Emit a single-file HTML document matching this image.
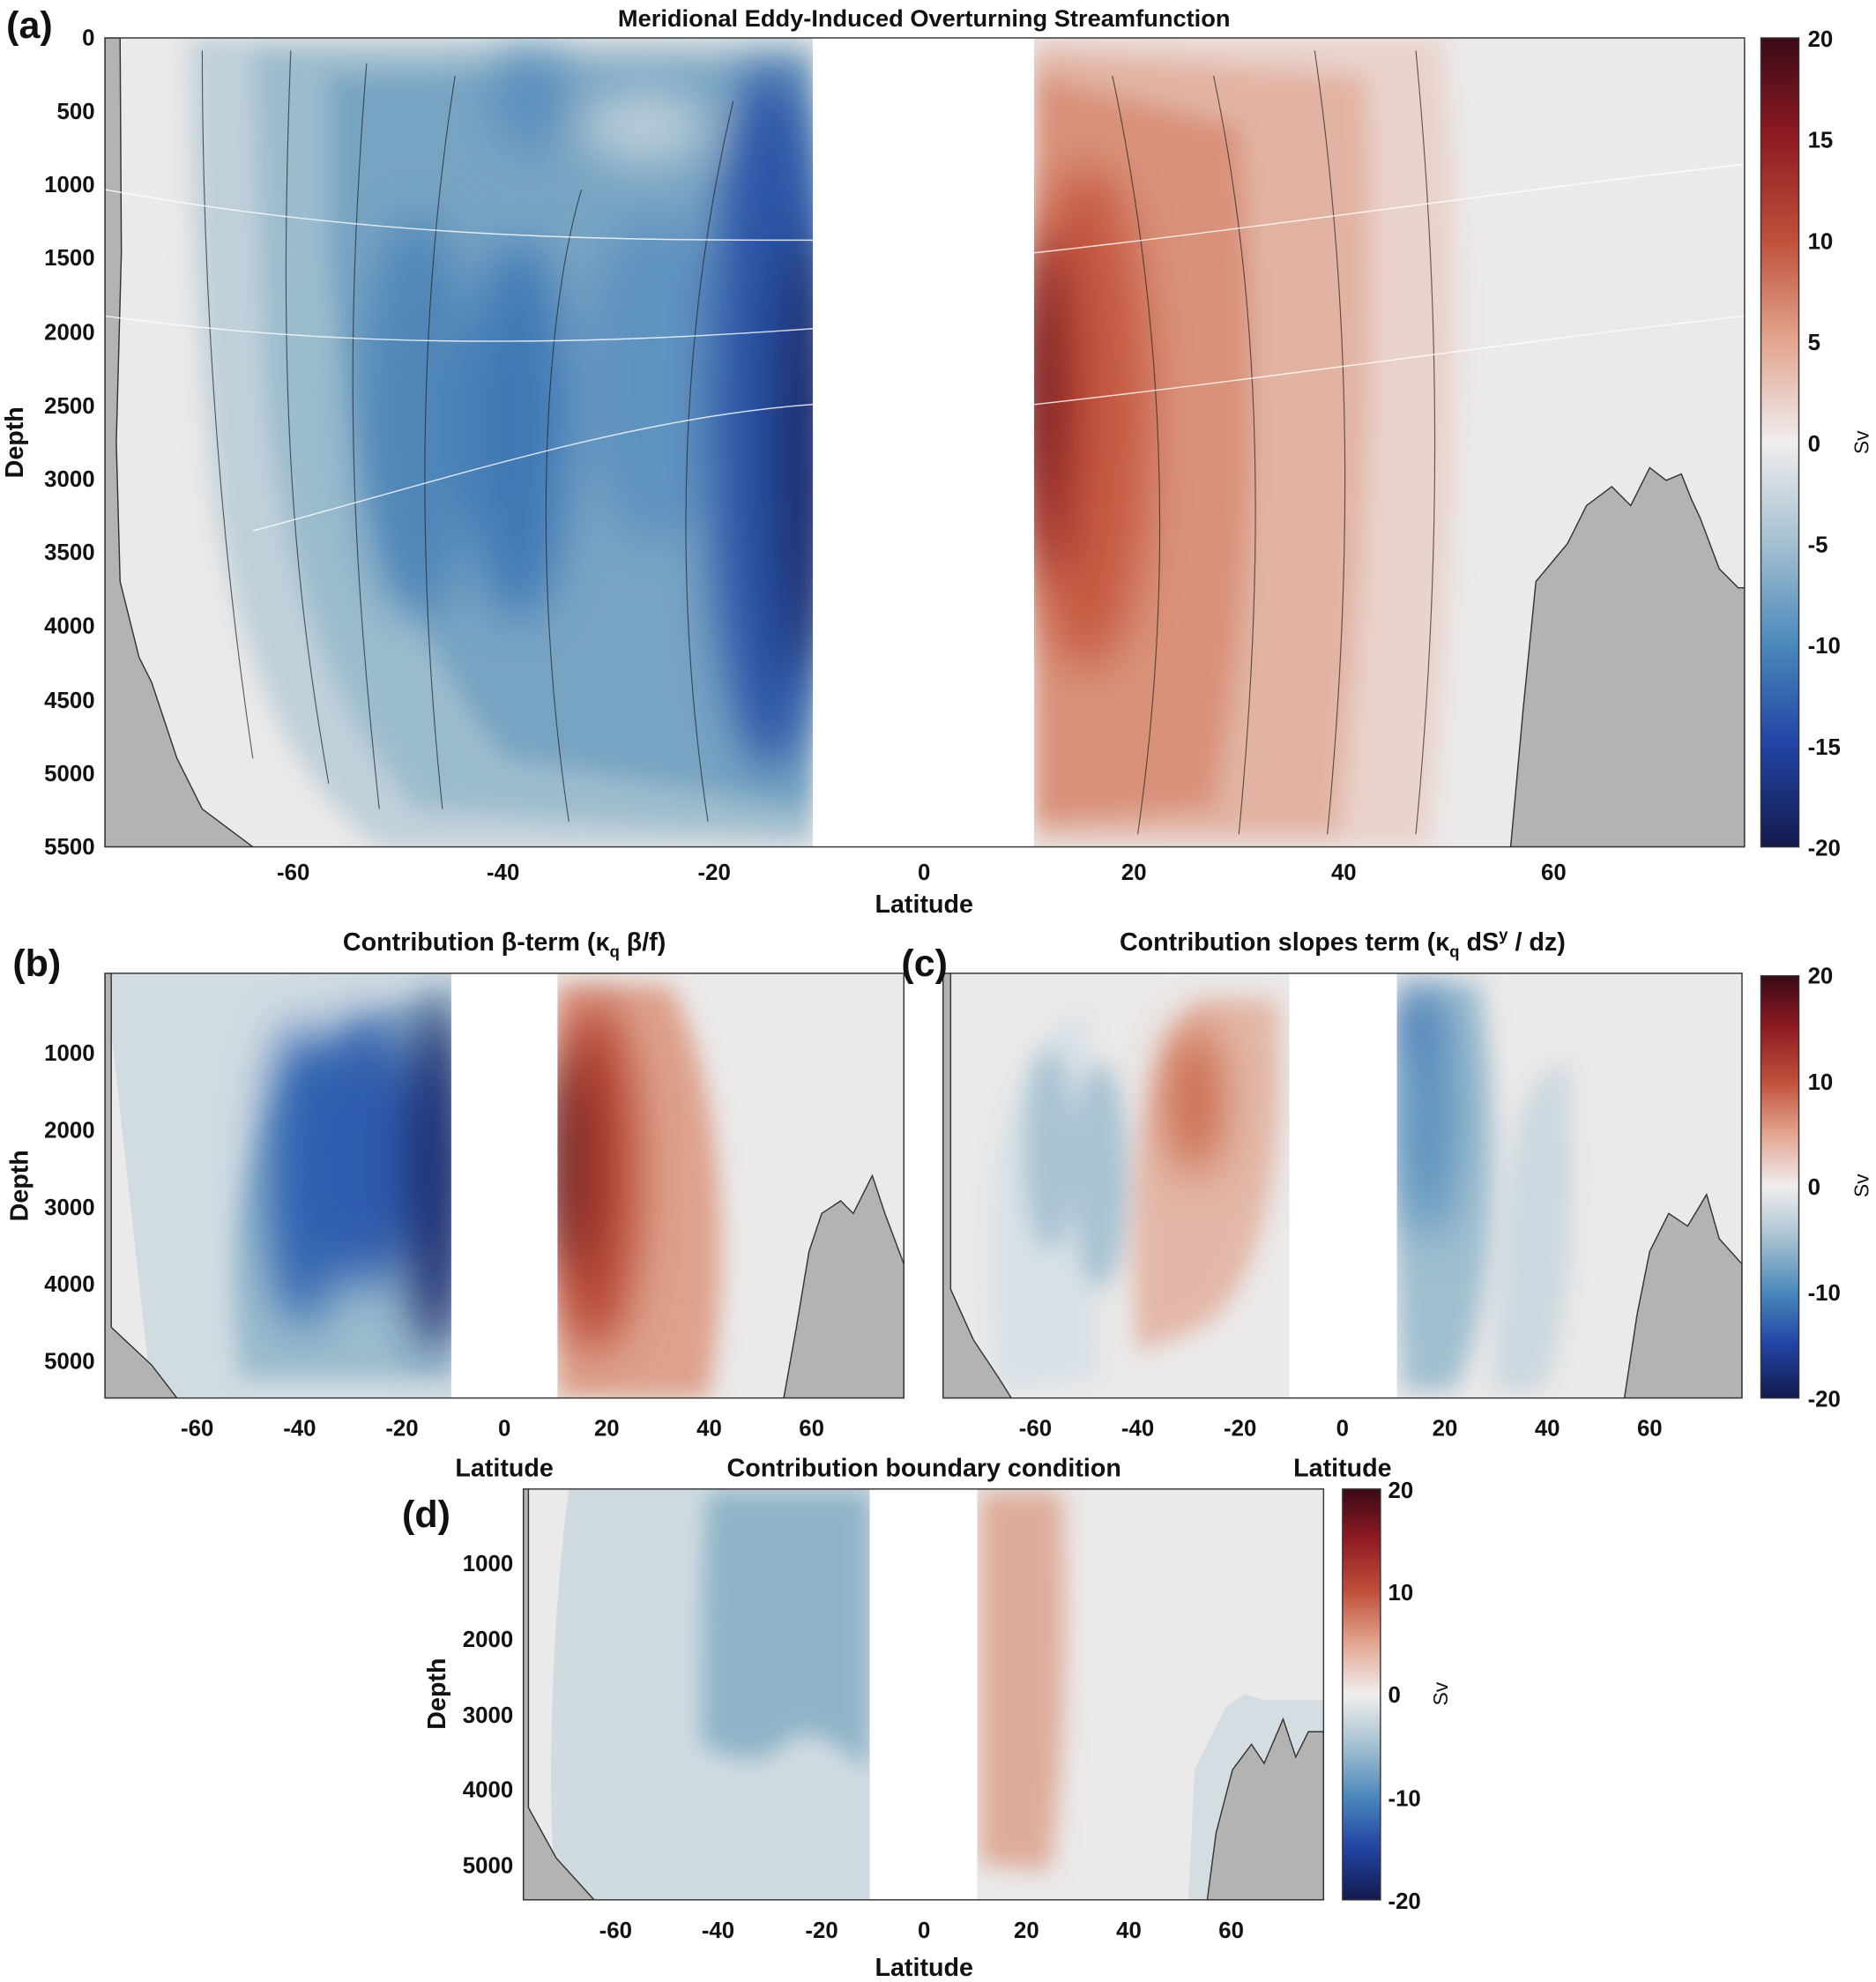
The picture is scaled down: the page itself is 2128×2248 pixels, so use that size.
<!DOCTYPE html>
<html><head><meta charset="utf-8"><style>
html,body{margin:0;padding:0;background:#fff}
svg{display:block}
text{font-family:"Liberation Sans",Arial,sans-serif;font-weight:bold;fill:#111}
</style></head><body>
<svg width="2128" height="2248" viewBox="0 0 1484 1568" preserveAspectRatio="none" xmlns="http://www.w3.org/2000/svg">
<defs>
<filter id="bl" x="-50%" y="-50%" width="200%" height="200%"><feGaussianBlur stdDeviation="18"/></filter>
<filter id="bs" x="-50%" y="-50%" width="200%" height="200%"><feGaussianBlur stdDeviation="9"/></filter>
<linearGradient id="cb" x1="0" y1="0" x2="0" y2="1">
<stop offset="0" stop-color="#3a0a16"/><stop offset="0.12" stop-color="#8e1a22"/>
<stop offset="0.25" stop-color="#c0503a"/><stop offset="0.37" stop-color="#e2a28c"/>
<stop offset="0.5" stop-color="#f0eeee"/><stop offset="0.62" stop-color="#a7c2d1"/>
<stop offset="0.75" stop-color="#4a88bb"/><stop offset="0.87" stop-color="#2245a5"/>
<stop offset="1" stop-color="#131a4d"/></linearGradient>
<clipPath id="ca"><rect x="83" y="30" width="1297" height="640"/></clipPath>
<clipPath id="cbp"><rect x="83" y="770" width="632" height="336"/></clipPath>
<clipPath id="ccp"><rect x="746" y="770" width="632" height="336"/></clipPath>
<clipPath id="cdp"><rect x="414" y="1178" width="633" height="325"/></clipPath>
</defs>

<!-- ========== PANEL A ========== -->
<g clip-path="url(#ca)">
<rect x="83" y="30" width="1297" height="640" fill="#ebe9e9"/>
<g filter="url(#bs)">
<path d="M150,30 L643,30 L643,670 L300,670 C230,620 190,520 170,400 C155,250 150,150 150,30Z" fill="#bfd0da"/>
<path d="M200,40 L643,40 L643,660 L330,640 C260,560 220,440 210,300 Z" fill="#9bbccd"/>
<path d="M260,60 L643,50 L643,640 L400,600 C320,500 280,380 260,200 Z" fill="#78a4c3"/>
</g>
<g filter="url(#bl)">
<ellipse cx="330" cy="330" rx="45" ry="160" fill="#4f86b8"/>
<ellipse cx="410" cy="340" rx="40" ry="150" fill="#3f79b6"/>
<ellipse cx="520" cy="300" rx="60" ry="130" fill="#5e93bf"/>
<ellipse cx="610" cy="330" rx="50" ry="280" fill="#2b55a7"/>
<ellipse cx="635" cy="360" rx="25" ry="180" fill="#1b2a70"/>
<ellipse cx="420" cy="80" rx="30" ry="40" fill="#5a8fbd"/>
<ellipse cx="510" cy="100" rx="50" ry="30" fill="#b8ccd7"/>
</g>
<g filter="url(#bs)">
<path d="M818,30 L1140,30 C1160,200 1150,450 1130,670 L818,670 Z" fill="#e9d2ca"/>
<path d="M818,40 L1080,60 C1090,250 1080,450 1060,660 L818,660 Z" fill="#e2b3a2"/>
<path d="M818,60 L980,100 C1000,300 990,480 960,640 L818,650 Z" fill="#d9927a"/>
</g>
<g filter="url(#bl)">
<ellipse cx="860" cy="330" rx="50" ry="200" fill="#c65a42"/>
<ellipse cx="830" cy="320" rx="22" ry="140" fill="#961d24"/>
<ellipse cx="822" cy="300" rx="10" ry="90" fill="#5a0f1a"/>
</g>
<rect x="643" y="30" width="175" height="640" fill="#fff"/>
<g fill="#b3b3b3" stroke="#333" stroke-width="1">
<path d="M83,30 L95,30 L96,200 L92,350 L95,460 L110,520 L120,540 L140,600 L160,640 L200,670 L83,670Z"/>
<path d="M1195,670 L1205,560 L1215,460 L1240,430 L1255,400 L1275,385 L1290,400 L1305,370 L1318,380 L1330,375 L1338,395 L1345,410 L1360,450 L1375,465 L1380,465 L1380,670Z"/>
</g>
<g fill="none" stroke="#222" stroke-width="0.8" opacity="0.7">
<path d="M200,600 C170,400 160,200 160,40"/><path d="M260,620 C230,450 220,300 230,40"/>
<path d="M300,640 C280,450 270,300 290,50"/><path d="M350,640 C330,450 330,250 360,60"/>
<path d="M450,650 C420,450 430,250 460,150"/><path d="M560,650 C530,450 540,250 580,80"/>
<path d="M1120,660 C1140,450 1140,250 1120,40"/><path d="M1050,660 C1070,450 1070,250 1040,40"/>
<path d="M980,660 C1000,450 1000,250 960,60"/><path d="M900,660 C930,450 920,250 880,60"/>
</g>
<g fill="none" stroke="#fff" stroke-width="1" opacity="0.8">
<path d="M83,150 C300,190 500,190 643,190"/><path d="M83,250 C300,280 500,270 643,260"/>
<path d="M200,420 C350,380 500,330 643,320"/><path d="M818,320 C1000,300 1200,270 1380,250"/>
<path d="M818,200 C1000,180 1200,150 1380,130"/>
</g>
</g>
<rect x="83" y="30" width="1297" height="640" fill="none" stroke="#333" stroke-width="1"/>
<text x="731" y="21" font-size="19" text-anchor="middle">Meridional Eddy-Induced Overturning Streamfunction</text>
<text x="5" y="30" font-size="30">(a)</text>
<g font-size="18" text-anchor="end">
<text x="75" y="36">0</text><text x="75" y="94">500</text><text x="75" y="152">1000</text><text x="75" y="210">1500</text><text x="75" y="269">2000</text><text x="75" y="327">2500</text><text x="75" y="385">3000</text><text x="75" y="443">3500</text><text x="75" y="501">4000</text><text x="75" y="560">4500</text><text x="75" y="618">5000</text><text x="75" y="676">5500</text>
</g>
<text transform="translate(18,350) rotate(-90)" font-size="20" text-anchor="middle">Depth</text>
<g font-size="18" text-anchor="middle">
<text x="232" y="696">-60</text><text x="398" y="696">-40</text><text x="565" y="696">-20</text><text x="731" y="696">0</text><text x="897" y="696">20</text><text x="1063" y="696">40</text><text x="1229" y="696">60</text>
</g>
<text x="731" y="722" font-size="20" text-anchor="middle">Latitude</text>
<rect x="1393" y="30" width="30" height="640" fill="url(#cb)" stroke="#333"/>
<g font-size="18"><text x="1430" y="37">20</text><text x="1430" y="117">15</text><text x="1430" y="197">10</text><text x="1430" y="277">5</text><text x="1430" y="357">0</text><text x="1430" y="437">-5</text><text x="1430" y="517">-10</text><text x="1430" y="597">-15</text><text x="1430" y="677">-20</text></g>
<text transform="translate(1478,350) rotate(-90)" font-size="16" text-anchor="middle" style="font-weight:normal">Sv</text>

<!-- ========== PANEL B ========== -->
<g clip-path="url(#cbp)">
<rect x="83" y="770" width="632" height="336" fill="#ebe9e9"/>
<path d="M83,770 L357,770 L357,1106 L120,1106 Z" fill="#d1dce2"/>
<g filter="url(#bs)"><path d="M190,1090 C170,950 200,820 357,780 L357,1090 Z" fill="#9bbccd"/></g>
<g filter="url(#bl)">
<ellipse cx="240" cy="930" rx="30" ry="120" fill="#2f62b0"/>
<ellipse cx="290" cy="910" rx="35" ry="110" fill="#2d5cae"/>
<ellipse cx="345" cy="930" rx="25" ry="140" fill="#1a2a70"/>
</g>
<g filter="url(#bs)"><path d="M441,780 L530,780 C570,850 580,1000 560,1106 L441,1106 Z" fill="#dea28c"/></g>
<g filter="url(#bl)"><ellipse cx="470" cy="930" rx="35" ry="140" fill="#b54233"/><ellipse cx="450" cy="920" rx="15" ry="90" fill="#5a0f1a"/></g>
<rect x="357" y="770" width="84" height="336" fill="#fff"/>
<g fill="#b3b3b3" stroke="#333" stroke-width="1">
<path d="M83,770 L88,770 L88,1050 L120,1080 L140,1106 L83,1106Z"/>
<path d="M620,1106 L630,1050 L640,990 L650,960 L665,950 L675,960 L690,930 L700,960 L715,1000 L715,1106Z"/>
</g>
</g>
<rect x="83" y="770" width="632" height="336" fill="none" stroke="#333"/>
<text x="399" y="752" font-size="20" text-anchor="middle">Contribution β-term (κ<tspan font-size="13" dy="5">q</tspan><tspan dy="-5"> β/f)</tspan></text>
<text x="10" y="772" font-size="30">(b)</text>
<g font-size="18" text-anchor="end"><text x="75" y="839">1000</text><text x="75" y="900">2000</text><text x="75" y="961">3000</text><text x="75" y="1022">4000</text><text x="75" y="1083">5000</text></g>
<text transform="translate(22,938) rotate(-90)" font-size="20" text-anchor="middle">Depth</text>
<g font-size="18" text-anchor="middle"><text x="156" y="1136">-60</text><text x="237" y="1136">-40</text><text x="318" y="1136">-20</text><text x="399" y="1136">0</text><text x="480" y="1136">20</text><text x="561" y="1136">40</text><text x="642" y="1136">60</text></g>
<text x="399" y="1168" font-size="20" text-anchor="middle">Latitude</text>

<!-- ========== PANEL C ========== -->
<g clip-path="url(#ccp)">
<rect x="746" y="770" width="632" height="336" fill="#ebe9e9"/>
<g filter="url(#bs)">
<path d="M790,1100 C770,950 790,820 860,800 L870,1090Z" fill="#d7e1e6"/>
<ellipse cx="830" cy="910" rx="20" ry="80" fill="#a9c3d2"/>
<ellipse cx="870" cy="930" rx="22" ry="90" fill="#a9c3d2"/>
<path d="M900,1070 C890,950 900,830 950,790 L1010,790 C1020,900 1000,1020 950,1050 Z" fill="#e3b7a7"/>
<path d="M1110,1100 C1100,950 1100,820 1110,778 L1170,778 C1190,900 1180,1050 1150,1100 Z" fill="#a0bfd0"/>
<path d="M1180,1100 C1190,950 1190,850 1240,840 C1250,950 1240,1060 1220,1100Z" fill="#cbd8df"/>
</g>
<g filter="url(#bl)"><ellipse cx="945" cy="870" rx="20" ry="60" fill="#c8623f"/><ellipse cx="1130" cy="880" rx="20" ry="100" fill="#4f89bb"/><ellipse cx="1120" cy="810" rx="12" ry="25" fill="#2a62ad"/></g>
<rect x="1020" y="770" width="85" height="336" fill="#fff"/>
<g fill="#b3b3b3" stroke="#333" stroke-width="1">
<path d="M746,770 L752,770 L752,1020 L770,1060 L790,1090 L800,1106 L746,1106Z"/>
<path d="M1285,1106 L1295,1040 L1305,990 L1320,960 L1335,970 L1350,945 L1360,980 L1378,1000 L1378,1106Z"/>
</g>
</g>
<rect x="746" y="770" width="632" height="336" fill="none" stroke="#333"/>
<text x="1062" y="752" font-size="20" text-anchor="middle">Contribution slopes term (κ<tspan font-size="13" dy="5">q</tspan><tspan dy="-5"> dS</tspan><tspan font-size="13" dy="-8">y</tspan><tspan dy="8"> / dz)</tspan></text>
<text x="713" y="772" font-size="30">(c)</text>
<g font-size="18" text-anchor="middle"><text x="819" y="1136">-60</text><text x="900" y="1136">-40</text><text x="981" y="1136">-20</text><text x="1062" y="1136">0</text><text x="1143" y="1136">20</text><text x="1224" y="1136">40</text><text x="1305" y="1136">60</text></g>
<text x="1062" y="1168" font-size="20" text-anchor="middle">Latitude</text>
<rect x="1393" y="772" width="30" height="334" fill="url(#cb)" stroke="#333"/>
<g font-size="18"><text x="1430" y="778">20</text><text x="1430" y="862">10</text><text x="1430" y="945">0</text><text x="1430" y="1029">-10</text><text x="1430" y="1113">-20</text></g>
<text transform="translate(1478,938) rotate(-90)" font-size="16" text-anchor="middle" style="font-weight:normal">Sv</text>

<!-- ========== PANEL D ========== -->
<g clip-path="url(#cdp)">
<rect x="414" y="1178" width="633" height="325" fill="#ebe9e9"/>
<path d="M440,1503 C430,1400 440,1250 450,1178 L688,1178 L688,1503 Z" fill="#d0dbe1"/>
<g filter="url(#bs)"><path d="M555,1380 C555,1300 556,1220 560,1180 L688,1180 L688,1400 C660,1380 640,1360 620,1380 C600,1400 575,1390 555,1380Z" fill="#8fb4c8"/></g>
<g filter="url(#bs)"><path d="M775,1475 L775,1180 L840,1180 C845,1300 840,1420 830,1480 Z" fill="#deac9a"/></g>
<rect x="688" y="1178" width="85" height="325" fill="#fff"/>
<path d="M940,1503 L945,1400 L970,1350 L985,1340 L1000,1345 L1047,1345 L1047,1503Z" fill="#d3dde2"/>
<g fill="#b3b3b3" stroke="#333" stroke-width="1">
<path d="M414,1178 L418,1178 L418,1430 L440,1470 L470,1503 L414,1503Z"/>
<path d="M955,1503 L962,1450 L975,1400 L990,1380 L1000,1395 L1015,1360 L1025,1390 L1035,1370 L1047,1370 L1047,1503Z"/>
</g>
</g>
<rect x="414" y="1178" width="633" height="325" fill="none" stroke="#333"/>
<text x="731" y="1168" font-size="20" text-anchor="middle">Contribution boundary condition</text>
<text x="318" y="1208" font-size="30">(d)</text>
<g font-size="18" text-anchor="end"><text x="406" y="1243">1000</text><text x="406" y="1303">2000</text><text x="406" y="1363">3000</text><text x="406" y="1422">4000</text><text x="406" y="1482">5000</text></g>
<text transform="translate(352,1340) rotate(-90)" font-size="20" text-anchor="middle">Depth</text>
<g font-size="18" text-anchor="middle"><text x="487" y="1533">-60</text><text x="568" y="1533">-40</text><text x="650" y="1533">-20</text><text x="731" y="1533">0</text><text x="812" y="1533">20</text><text x="893" y="1533">40</text><text x="974" y="1533">60</text></g>
<text x="731" y="1563" font-size="20" text-anchor="middle">Latitude</text>
<rect x="1062" y="1178" width="30" height="325" fill="url(#cb)" stroke="#333"/>
<g font-size="18"><text x="1098" y="1185">20</text><text x="1098" y="1266">10</text><text x="1098" y="1347">0</text><text x="1098" y="1429">-10</text><text x="1098" y="1510">-20</text></g>
<text transform="translate(1145,1340) rotate(-90)" font-size="16" text-anchor="middle" style="font-weight:normal">Sv</text>
</svg>
</body></html>
